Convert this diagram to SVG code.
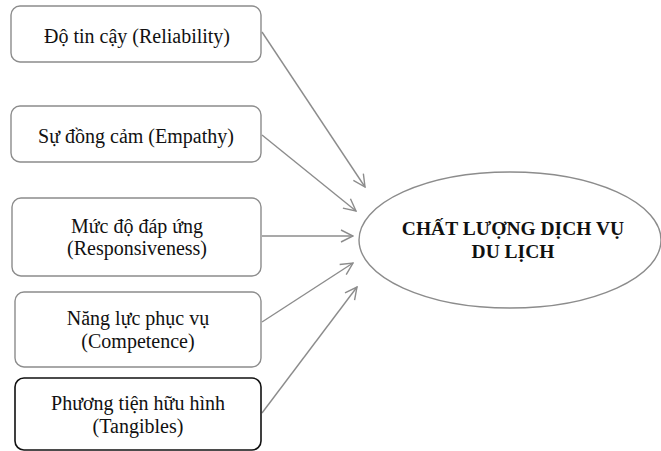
<svg xmlns="http://www.w3.org/2000/svg" width="661" height="451" viewBox="0 0 661 451">
<style>
.box{fill:#fff;stroke:#8c8c8c;stroke-width:1.4}
.box.dark{stroke:#111;stroke-width:1.6}
.t{font-family:"Liberation Serif","Times New Roman",serif;font-size:20px;fill:#111;text-anchor:middle}
.tb{font-family:"Liberation Serif","Times New Roman",serif;font-size:19.5px;font-weight:bold;fill:#111;text-anchor:middle}
.c{stroke:#8c8c8c;stroke-width:1.4;fill:none;marker-end:url(#ah)}
</style>
<defs>
<marker id="ah" viewBox="0 0 14 14" refX="13" refY="7" markerWidth="14" markerHeight="14" markerUnits="userSpaceOnUse" orient="auto">
<path d="M1,1 L13,7 L1,13" fill="none" stroke="#8c8c8c" stroke-width="1.4"/>
</marker>
</defs>
<rect width="661" height="451" fill="#fff"/>
<g id="connectors">
<line class="c" x1="262" y1="32" x2="365" y2="187"/>
<line class="c" x1="262" y1="135" x2="356" y2="211"/>
<line class="c" x1="262" y1="236" x2="353" y2="236"/>
<line class="c" x1="262" y1="322" x2="353" y2="263"/>
<line class="c" x1="262" y1="413" x2="357" y2="287"/>
</g>
<g id="n1">
<rect class="box" x="11" y="6" width="250" height="56" rx="9"/>
<text class="t" x="137" y="43">Độ tin cậy (Reliability)</text>
</g>
<g id="n2">
<rect class="box" x="11" y="106" width="250" height="56" rx="9"/>
<text class="t" x="136" y="143">Sự đồng cảm (Empathy)</text>
</g>
<g id="n3">
<rect class="box" x="12" y="198" width="249" height="78" rx="9"/>
<text class="t" x="137" y="233">Mức độ đáp ứng</text>
<text class="t" x="137" y="255">(Responsiveness)</text>
</g>
<g id="n4">
<rect class="box" x="15" y="292" width="246" height="75" rx="9"/>
<text class="t" x="138" y="325">Năng lực phục vụ</text>
<text class="t" x="138" y="348">(Competence)</text>
</g>
<g id="n5">
<rect class="box dark" x="15" y="378" width="246" height="72" rx="9"/>
<text class="t" x="138" y="410">Phương tiện hữu hình</text>
<text class="t" x="138" y="433">(Tangibles)</text>
</g>
<g id="target">
<ellipse cx="510" cy="240" rx="151" ry="68" fill="#fff" stroke="#8c8c8c" stroke-width="1.4"/>
<text class="tb" x="513" y="235">CHẤT LƯỢNG DỊCH VỤ</text>
<text class="tb" x="513" y="258">DU LỊCH</text>
</g>
</svg>
